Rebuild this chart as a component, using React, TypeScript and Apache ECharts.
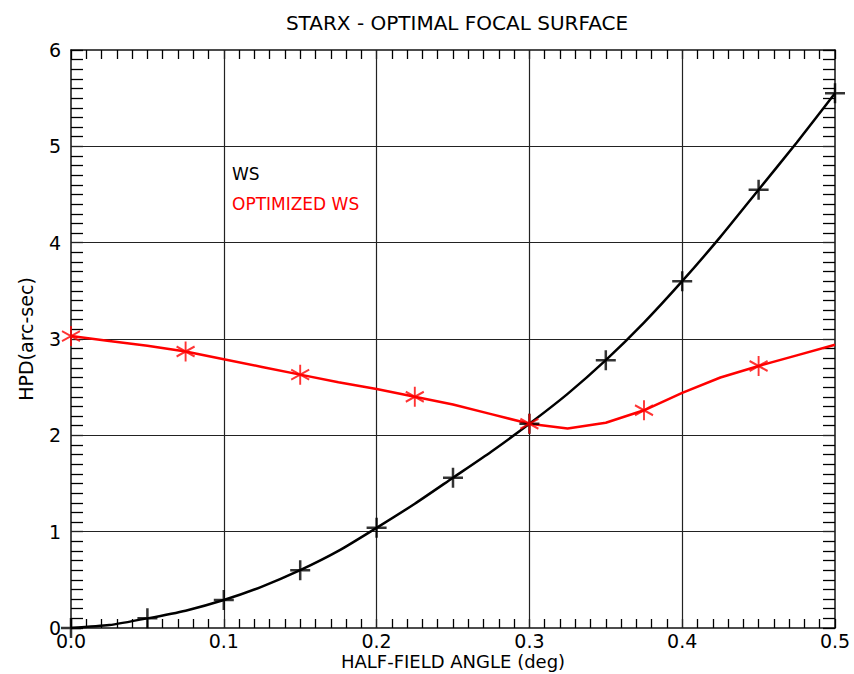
import React, { useEffect, useRef } from "react";
import * as echarts from "echarts";

const xLine = [0, 0.025, 0.05, 0.075, 0.1, 0.125, 0.15, 0.175, 0.2, 0.225, 0.25, 0.275, 0.3, 0.325, 0.35, 0.375, 0.4, 0.425, 0.45, 0.475, 0.5];
const wsValues = [0.0, 0.03, 0.1, 0.18, 0.29, 0.43, 0.6, 0.8, 1.04, 1.29, 1.56, 1.83, 2.12, 2.43, 2.78, 3.17, 3.6, 4.06, 4.55, 5.04, 5.55];
const optValues = [3.03, 2.98, 2.93, 2.87, 2.79, 2.71, 2.63, 2.55, 2.48, 2.4, 2.32, 2.22, 2.12, 2.07, 2.13, 2.26, 2.44, 2.6, 2.72, 2.83, 2.94];
const wsMarkerStep = 2;
const optMarkerStep = 3;
const xTicks = ["0.0", "0.1", "0.2", "0.3", "0.4", "0.5"];
const yTicks = ["0", "1", "2", "3", "4", "5", "6"];
const xGrid = [0.1, 0.2, 0.3, 0.4];
const yGrid = [1, 2, 3, 4, 5];

const title = "STARX - OPTIMAL FOCAL SURFACE";
const xName = "HALF-FIELD ANGLE (deg)";
const yName = "HPD(arc-sec)";
const legendWS = "WS";
const legendOpt = "OPTIMIZED WS";

const FONT = "DejaVu Sans";
const PLUS = "path://M0,-10 L0,10 M-10,0 L10,0";
const STAR = "path://M0,-10 L0,10 M-8.66,-5 L8.66,5 M-8.66,5 L8.66,-5";

export default function App() {
  const ref = useRef<HTMLDivElement>(null);
  useEffect(() => {
    const chart = echarts.init(ref.current!, null, { renderer: "svg" });
    const wsLine = xLine.map((x, i) => [x, wsValues[i]]);
    const optLine = xLine.map((x, i) => [x, optValues[i]]);
    const wsMarks = wsLine.filter((_, i) => i % wsMarkerStep === 0);
    const optMarks = optLine.filter((_, i) => i % optMarkerStep === 0);

    const frame = { show: true, onZero: false, lineStyle: { color: "#111", width: 1.5 } };
    const xAx = (position: string) => ({
      type: "value",
      position,
      min: 0,
      max: 0.5,
      interval: 0.01,
      axisLine: frame,
      axisTick: { show: true, interval: 0, inside: true, length: 9, lineStyle: { color: "#000", width: 1.3 } },
      splitLine: { show: false },
    });
    const yAx = (position: string) => ({
      type: "value",
      position,
      min: 0,
      max: 6,
      interval: 0.1,
      axisLine: frame,
      axisTick: { show: true, interval: 0, inside: true, length: 12, lineStyle: { color: "#000", width: 1.3 } },
      splitLine: { show: false },
    });

    chart.setOption({
      animation: false,
      backgroundColor: "#fff",
      title: {
        text: title,
        left: 452,
        textAlign: "center",
        top: 8,
        textStyle: { fontFamily: FONT, fontSize: 20, fontWeight: "normal", color: "#000" },
      },
      grid: { left: 71, right: 19, top: 50, bottom: 46, containLabel: false, outerBoundsMode: "none" },
      xAxis: [
        {
          ...xAx("bottom"),
          name: xName,
          nameLocation: "middle",
          nameGap: 24,
          nameMoveOverlap: false,
          nameTextStyle: { fontFamily: FONT, fontSize: 18, color: "#000" },
          axisLabel: {
            fontFamily: FONT,
            fontSize: 19,
            color: "#000",
            margin: 3,
            interval: 0,
            hideOverlap: false,
            formatter: (v: number) => {
              const k = Math.round(v * 100);
              return k % 10 === 0 ? xTicks[k / 10] ?? "" : "";
            },
          },
        },
        { ...xAx("top"), axisLabel: { show: false } },
      ],
      yAxis: [
        {
          ...yAx("left"),
          name: yName,
          nameLocation: "middle",
          nameGap: 36,
          nameTextStyle: { fontFamily: FONT, fontSize: 19, color: "#000" },
          axisLabel: {
            fontFamily: FONT,
            fontSize: 19,
            color: "#000",
            margin: 10,
            interval: 0,
            hideOverlap: false,
            formatter: (v: number) => {
              const k = Math.round(v * 10);
              return k % 10 === 0 ? yTicks[k / 10] ?? "" : "";
            },
          },
        },
        { ...yAx("right"), axisLabel: { show: false } },
      ],
      graphic: [
        { type: "text", left: 232, top: 165, style: { text: legendWS, fontFamily: FONT, fontSize: 17, fill: "#000" } },
        { type: "text", left: 232, top: 195, style: { text: legendOpt, fontFamily: FONT, fontSize: 17, fill: "#ff0000" } },
      ],
      series: [
        {
          type: "line",
          data: wsLine,
          showSymbol: false,
          smooth: 0.2,
          lineStyle: { color: "#000", width: 2.5 },
          z: 3,
          markLine: {
            silent: true,
            symbol: "none",
            z: 1,
            label: { show: false },
            lineStyle: { color: "#222", width: 1.2, type: "solid" },
            emphasis: { disabled: true },
            data: [...xGrid.map((v) => ({ xAxis: v })), ...yGrid.map((v) => ({ yAxis: v }))],
          },
        },
        {
          type: "scatter",
          data: wsMarks,
          symbol: PLUS,
          symbolSize: 20,
          itemStyle: { color: "none", borderColor: "#000", borderWidth: 2.5 },
          z: 4,
        },
        {
          type: "line",
          data: optLine,
          showSymbol: false,
          lineStyle: { color: "#ff0000", width: 2.5 },
          z: 3,
        },
        {
          type: "scatter",
          data: optMarks,
          symbol: STAR,
          symbolSize: [18, 20],
          itemStyle: { color: "none", borderColor: "#ff0000", borderWidth: 2 },
          z: 4,
        },
      ],
    });
    return () => chart.dispose();
  }, []);
  return <div ref={ref} style={{ width: 854, height: 674, position: "absolute", left: 0, top: 0 }} />;
}
